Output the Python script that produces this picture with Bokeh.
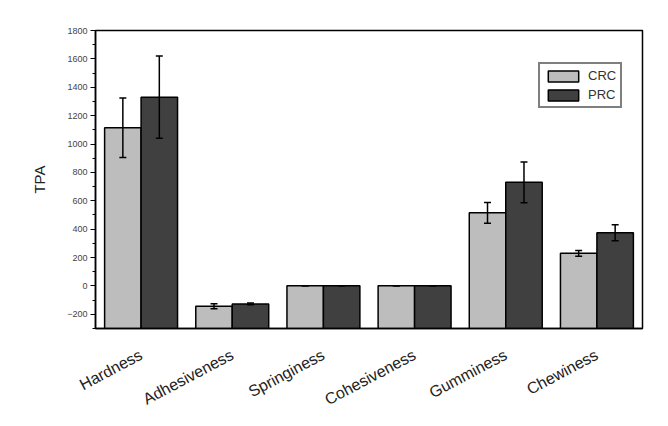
import math
from bokeh.plotting import figure
from bokeh.models import (ColumnDataSource, Range1d, FixedTicker, Whisker, TeeHead,
                          Legend, LegendItem)
from bokeh.embed import file_html
from bokeh.resources import INLINE

# ---- data ----
categories = ["Hardness", "Adhesiveness", "Springiness", "Cohesiveness", "Gumminess", "Chewiness"]
crc = [1115, -143, 1, 0.5, 515, 230]
crc_err = [210, 18, 0.1, 0.05, 73, 20]
prc = [1330, -127, 1, 0.6, 730, 375]
prc_err = [290, 6, 0.1, 0.05, 144, 57]
series_names = ["CRC", "PRC"]
y_ticks = list(range(-200, 1801, 200))

Y_MIN, Y_MAX = -300, 1800
FONT = "Liberation Sans"

x = list(range(len(categories)))
x_crc = [i - 0.2 for i in x]
x_prc = [i + 0.2 for i in x]

src_crc = ColumnDataSource(dict(x=x_crc, top=crc,
                                upper=[v + e for v, e in zip(crc, crc_err)],
                                lower=[v - e for v, e in zip(crc, crc_err)]))
src_prc = ColumnDataSource(dict(x=x_prc, top=prc,
                                upper=[v + e for v, e in zip(prc, prc_err)],
                                lower=[v - e for v, e in zip(prc, prc_err)]))

p = figure(width=660, height=426, output_backend="svg", toolbar_location=None,
           x_range=Range1d(-0.5, 5.5), y_range=Range1d(Y_MIN, Y_MAX),
           min_border_left=95, min_border_right=18, min_border_top=30, min_border_bottom=98)

p.xgrid.visible = False
p.ygrid.visible = False
p.outline_line_color = "black"
p.outline_line_width = 1.5
p.background_fill_color = "white"
p.border_fill_color = "white"

r1 = p.vbar(x="x", top="top", bottom=Y_MIN, width=0.4, source=src_crc,
            fill_color="#bdbdbd", line_color="black", line_width=1.5)
r2 = p.vbar(x="x", top="top", bottom=Y_MIN, width=0.4, source=src_prc,
            fill_color="#404040", line_color="black", line_width=1.5)

for src in (src_crc, src_prc):
    w = Whisker(source=src, base="x", upper="upper", lower="lower",
                line_color="black", line_width=1.5, level="overlay",
                upper_head=TeeHead(size=7, line_color="black", line_width=1.5),
                lower_head=TeeHead(size=7, line_color="black", line_width=1.5))
    p.add_layout(w)

# x axis
p.xaxis.ticker = FixedTicker(ticks=x)
p.xaxis.major_label_overrides = {i: c for i, c in zip(x, categories)}
p.xaxis.major_label_orientation = math.radians(28)
p.xaxis.major_tick_line_color = None
p.xaxis.minor_tick_line_color = None
p.xaxis.axis_line_color = "black"
p.xaxis.axis_line_width = 1.5
p.xaxis.major_label_text_font = FONT
p.xaxis.major_label_text_font_size = "16px"
p.xaxis.major_label_text_color = "#222222"
p.xaxis.major_label_standoff = 19

# y axis
p.yaxis.ticker = FixedTicker(ticks=y_ticks, minor_ticks=list(range(-300, 1801, 100)))
p.yaxis.axis_label = "TPA"
p.yaxis.axis_label_text_font = FONT
p.yaxis.axis_label_text_font_size = "15px"
p.yaxis.axis_label_text_font_style = "normal"
p.yaxis.axis_label_text_color = "#222222"
p.yaxis.axis_label_standoff = 16
p.yaxis.major_label_text_font = FONT
p.yaxis.major_label_text_font_size = "9px"
p.yaxis.major_label_text_color = "#444444"
p.yaxis.major_label_standoff = 3
p.yaxis.major_tick_in = 0
p.yaxis.major_tick_out = 5
p.yaxis.minor_tick_in = 0
p.yaxis.minor_tick_out = 3
p.yaxis.axis_line_color = "black"
p.yaxis.axis_line_width = 1.5
p.yaxis.major_tick_line_width = 1.2
p.yaxis.minor_tick_line_width = 1.2

legend = Legend(items=[LegendItem(label=series_names[0], renderers=[r1]),
                       LegendItem(label=series_names[1], renderers=[r2])],
                location=(443, 220), orientation="vertical",
                border_line_color="black", border_line_width=2,
                label_text_font=FONT, label_text_font_size="13px",
                label_text_color="#333333",
                glyph_width=38, glyph_height=14, label_standoff=6,
                padding=4, spacing=4, margin=0, label_height=14)
p.add_layout(legend)

open("out.html", "w").write(file_html(p, INLINE))
